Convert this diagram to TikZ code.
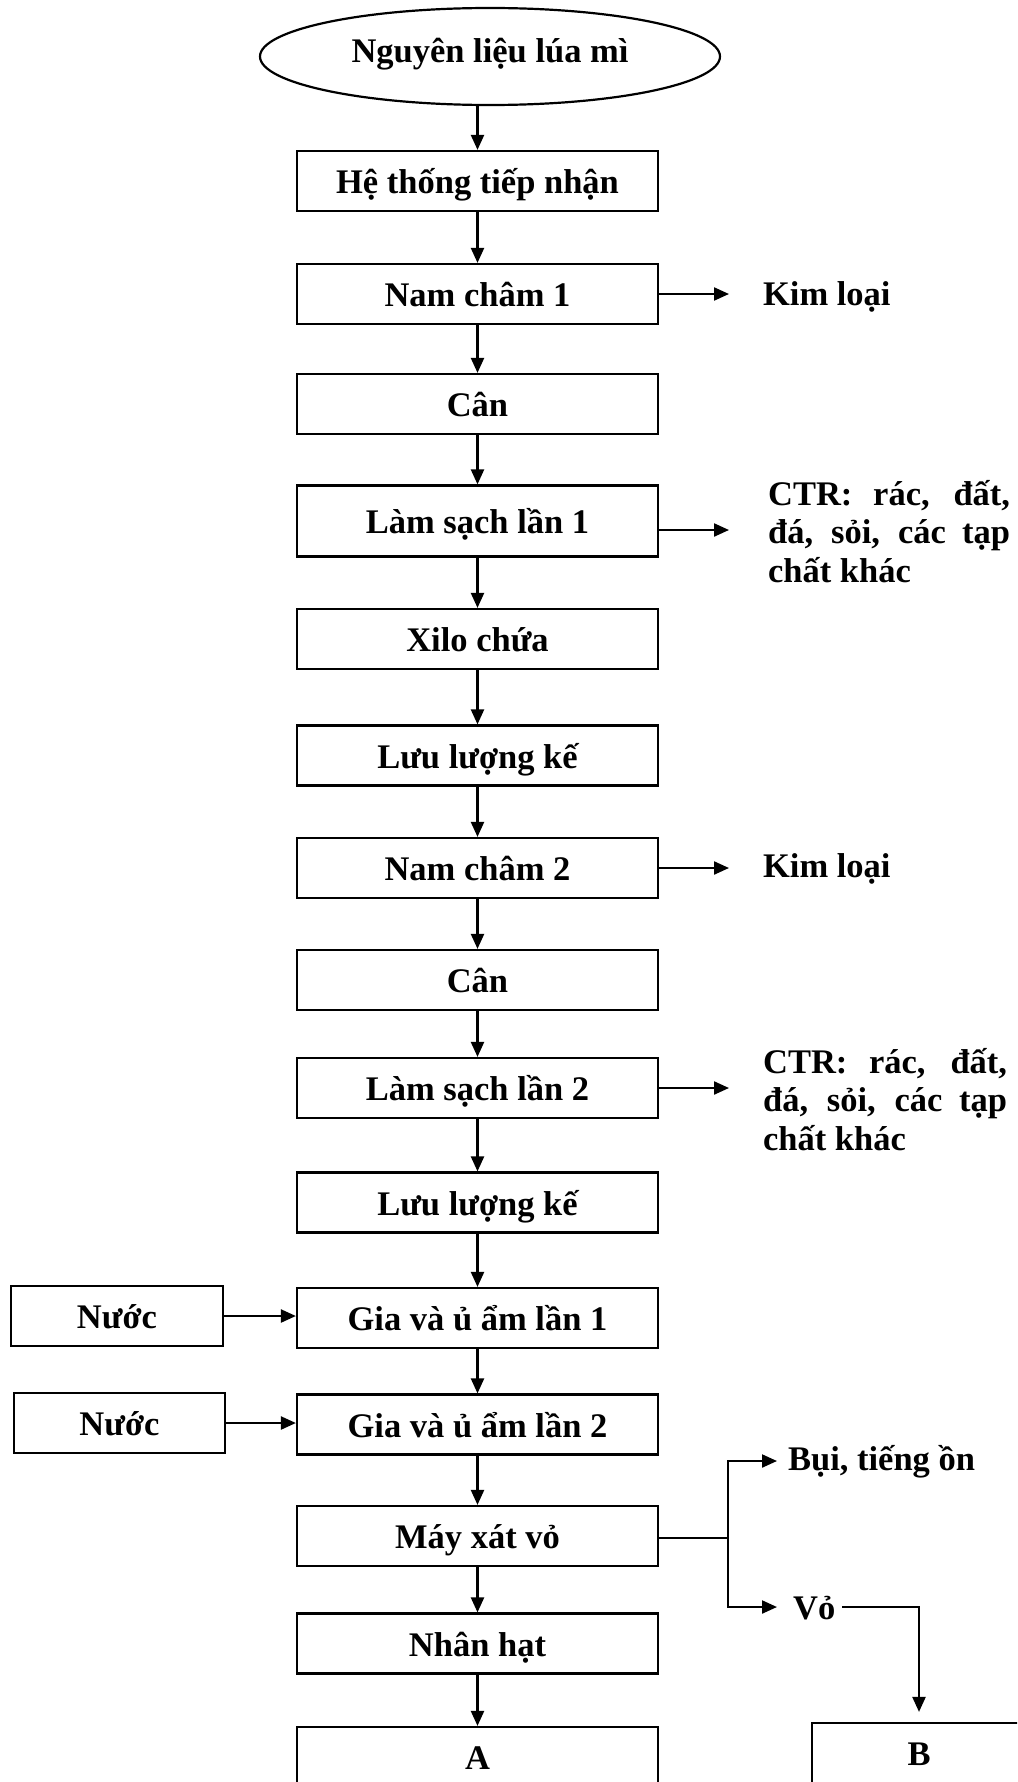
\documentclass[tikz,border=0pt]{standalone}
\usepackage{fontspec}
\setmainfont{Liberation Serif}
\usetikzlibrary{shapes.geometric,arrows.meta}
\begin{document}
\begin{tikzpicture}[x=1pt,y=-1pt,
  font=\fontsize{34.5}{38.5}\selectfont\bfseries,
  line width=2.2pt,
  box/.style={draw, rectangle, minimum width=361pt, minimum height=60pt, inner sep=0pt, text height=25pt, text depth=0pt},
  arr/.style={-{Triangle[length=15pt,width=13pt]}},
  lbl/.style={anchor=base west, inner sep=0pt}]
\useasboundingbox (0,0) rectangle (1017,1782);
\fill[white] (0,0) rectangle (1017,1782);
\clip (0,0) rectangle (1017,1782);

% start ellipse
\node[ellipse, draw, minimum width=460pt, minimum height=97pt, inner sep=0pt, text height=13pt, text depth=0pt] (e) at (490,56.5) {Nguyên liệu lúa mì};

% main column
\node[box] (b1) at (477.5,181) {Hệ thống tiếp nhận};
\node[box] (b2) at (477.5,294) {Nam châm 1};
\node[box] (b3) at (477.5,404) {Cân};
\node[box, minimum height=71pt] (b4) at (477.5,521) {Làm sạch lần 1};
\node[box] (b5) at (477.5,639) {Xilo chứa};
\node[box] (b6) at (477.5,755.5) {Lưu lượng kế};
\node[box] (b7) at (477.5,868) {Nam châm 2};
\node[box] (b8) at (477.5,980) {Cân};
\node[box] (b9) at (477.5,1088) {Làm sạch lần 2};
\node[box] (b10) at (477.5,1202.5) {Lưu lượng kế};
\node[box] (b11) at (477.5,1318) {Gia và ủ ẩm lần 1};
\node[box] (b12) at (477.5,1424.5) {Gia và ủ ẩm lần 2};
\node[box] (b13) at (477.5,1536) {Máy xát vỏ};
\node[box] (b14) at (477.5,1643.5) {Nhân hạt};
\node[box] (b15) at (477.5,1757) {A};

% water inputs
\node[box, minimum width=212pt] (n1) at (117,1316) {Nước};
\node[box, minimum width=211pt] (n2) at (119.5,1423) {Nước};

% side outputs
\node[lbl] (k1) at (762,305) {Kim loại};
\node[lbl] (k2) at (762,877) {Kim loại};
\node[lbl] (c1) at (767,505) {\vtop{\hbox{\makebox[242pt][s]{CTR: rác, đất,}}\hbox{\makebox[242pt][s]{đá, sỏi, các tạp}}\hbox{chất khác}}};
\node[lbl] (c2) at (762,1073) {\vtop{\hbox{\makebox[244pt][s]{CTR: rác, đất,}}\hbox{\makebox[244pt][s]{đá, sỏi, các tạp}}\hbox{chất khác}}};
\node[lbl] (bui) at (787,1470) {Bụi, tiếng ồn};
\node[lbl] (vo) at (792,1619) {Vỏ};
\node[box, minimum width=214pt] (bb) at (919,1753) {B};

% arrow end coordinates
\coordinate (kx) at (729,0);
\coordinate (jn) at (728,1538);
\coordinate (bt) at (777,1461);
\coordinate (vt) at (777,1607);
\coordinate (vs) at (842,1607);

% main flow
\draw[arr] (e.south -| b1.north) -- (b1.north);
\foreach \a/\b in {b1/b2,b2/b3,b3/b4,b4/b5,b5/b6,b6/b7,b7/b8,b8/b9,b9/b10,b10/b11,b11/b12,b12/b13,b13/b14,b14/b15}
  \draw[arr] (\a) -- (\b);

% water
\draw[arr] (n1.east) -- (n1.east -| b11.west);
\draw[arr] (n2.east) -- (n2.east -| b12.west);

% side arrows
\draw[arr] (b2.east) -- (b2.east -| kx);
\draw[arr] ([yshift=-9pt]b4.east) -- ([yshift=-9pt]b4.east -| kx);
\draw[arr] (b7.east) -- (b7.east -| kx);
\draw[arr] (b9.east) -- (b9.east -| kx);

% husking branch
\draw (b13.east |- jn) -- (jn);
\draw[arr] (jn) |- (bt);
\draw[arr] (jn) |- (vt);
\draw[arr, shorten >=10pt] (vs) -| (bb.north);
\end{tikzpicture}
\end{document}
